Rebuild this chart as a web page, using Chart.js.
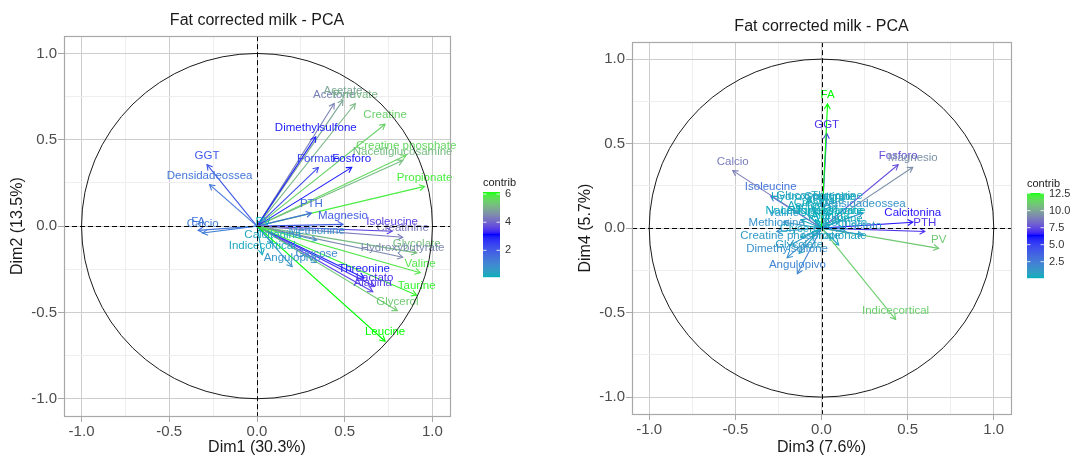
<!DOCTYPE html>
<html>
<head>
<meta charset="utf-8">
<script src="https://cdn.jsdelivr.net/npm/chart.js@4.4.1/dist/chart.umd.min.js"></script>
<style>
  html, body { margin: 0; padding: 0; background: #ffffff; }
  #wrap { position: relative; width: 1072px; height: 456px; overflow: hidden; }
  #pca12 { position: absolute; left: 0; top: 0; }
  #pca34 { position: absolute; left: 540px; top: 0; }
</style>
</head>
<body>
<div id="wrap">
  <canvas id="pca12" width="540" height="456"></canvas>
  <canvas id="pca34" width="532" height="456"></canvas>
</div>
<script>
// variables (same order in both panels)
const varNames = [
  'Acetone', 'Acetate', 'Pyruvate', 'Creatine', 'Dimethylsulfone', 'Creatine phosphate',
  'Nacetilglucosamine', 'Propionate', 'GGT', 'Densidadeossea', 'Formato', 'Fosforo',
  'PTH', 'Magnesio', 'Isoleucine', 'Creatinine', 'FA', 'Calcio', 'PV', 'Calcitonina',
  'Methionine', 'Indicecortical', 'Angulopivo', 'Glucose', 'Glycolate', 'Hydroxybutyrate',
  'Valine', 'Threonine', 'Lactato', 'Alanina', 'Taurine', 'Glycerol', 'Leucine'
];

// panel 1 : Dim1 / Dim2
const dim1 = [0.44, 0.49, 0.56, 0.73, 0.335, 0.85, 0.83, 0.955, -0.285, -0.27, 0.35, 0.54,
  0.31, 0.49, 0.77, 0.83, -0.335, -0.31, 0.035, 0.09, 0.34, 0.03, 0.20, 0.34, 0.91, 0.83,
  0.93, 0.61, 0.67, 0.66, 0.91, 0.80, 0.73];
const dim2 = [0.71, 0.73, 0.71, 0.59, 0.517, 0.41, 0.38, 0.23, 0.356, 0.24, 0.34, 0.34,
  0.075, 0.01, -0.03, -0.065, -0.025, -0.04, -0.03, -0.10, -0.08, -0.165, -0.235, -0.21, -0.155, -0.18,
  -0.27, -0.30, -0.35, -0.38, -0.40, -0.49, -0.667];
const contrib12 = [4.4, 4.9, 5.15, 5.5, 2.9, 5.6, 5.2, 5.9, 2.0, 1.4, 2.3, 3.0,
  1.6, 1.9, 3.6, 4.3, 1.4, 1.2, 0.1, 0.3, 0.8, 0.25, 0.7, 1.0, 5.2, 4.5,
  5.8, 2.9, 3.4, 3.6, 6.0, 5.4, 6.15];

// panel 2 : Dim3 / Dim4
const dim3 = [-0.075, 0.02, 0.11, -0.035, -0.2, -0.18, -0.035, 0.10, 0.03, 0.24, 0.14, 0.445,
  0.60, 0.53, -0.295, 0.05, 0.035, -0.515, 0.68, 0.53, -0.26, 0.43, -0.14, -0.14, -0.13, -0.05,
  -0.22, 0.09, 0.24, 0.05, 0.13, -0.12, -0.12];
const dim4 = [0.08, 0.11, 0.05, 0.095, -0.175, -0.10, 0.05, -0.10, 0.56, 0.09, -0.02, 0.375,
  -0.02, 0.36, 0.19, 0.13, 0.735, 0.34, -0.12, 0.035, -0.02, -0.54, -0.27, 0.135, -0.15, 0.13,
  0.035, 0.135, -0.04, 0.02, 0.0, -0.055, 0.05];
const contrib34 = [0.3, 0.3, 0.3, 0.25, 1.6, 1.0, 0.1, 0.5, 7.0, 1.4, 0.4, 7.6,
  7.0, 9.4, 2.8, 0.5, 12.6, 8.8, 11.0, 6.5, 1.5, 11.2, 2.1, 0.8, 0.9, 0.4,
  1.1, 0.6, 1.3, 0.15, 0.4, 0.4, 0.35];

// axis ticks
const majorTicks = [-1, -0.5, 0, 0.5, 1];
const tickLabels = ['-1.0', '-0.5', '0.0', '0.5', '1.0'];
const minorTicks = [-0.75, -0.25, 0.25, 0.75];

// colour bar ticks
const legendTicks12 = [2, 4, 6];
const legendLabels12 = ['2', '4', '6'];
const legendTicks34 = [2.5, 5, 7.5, 10, 12.5];
const legendLabels34 = ['2.5', '5.0', '7.5', '10.0', '12.5'];

const gradientColors = ['#00AFBB', '#0000FF', '#00FF00'];

const FONT = '"Liberation Sans", Arial, Helvetica, sans-serif';

// --- colour gradient in Lab space (like ggplot's gradientn) ---
function hexToLab(hex) {
  const n = parseInt(hex.slice(1), 16);
  const rgb = [(n >> 16) & 255, (n >> 8) & 255, n & 255].map(function(c) {
    c = c / 255;
    return c <= 0.04045 ? c / 12.92 : Math.pow((c + 0.055) / 1.055, 2.4);
  });
  const X = (0.4124564 * rgb[0] + 0.3575761 * rgb[1] + 0.1804375 * rgb[2]) / 0.95047;
  const Y = (0.2126729 * rgb[0] + 0.7151522 * rgb[1] + 0.0721750 * rgb[2]);
  const Z = (0.0193339 * rgb[0] + 0.1191920 * rgb[1] + 0.9503041 * rgb[2]) / 1.08883;
  const f = t => t > 0.008856 ? Math.cbrt(t) : 7.787 * t + 16 / 116;
  return [116 * f(Y) - 16, 500 * (f(X) - f(Y)), 200 * (f(Y) - f(Z))];
}
function labToRgb(lab) {
  const fy = (lab[0] + 16) / 116, fx = fy + lab[1] / 500, fz = fy - lab[2] / 200;
  const inv = t => (t * t * t > 0.008856) ? t * t * t : (t - 16 / 116) / 7.787;
  const X = 0.95047 * inv(fx), Y = inv(fy), Z = 1.08883 * inv(fz);
  const lin = [
    3.2404542 * X - 1.5371385 * Y - 0.4985314 * Z,
    -0.9692660 * X + 1.8760108 * Y + 0.0415560 * Z,
    0.0556434 * X - 0.2040259 * Y + 1.0572252 * Z
  ];
  const out = lin.map(function(c) {
    c = c <= 0.0031308 ? 12.92 * c : 1.055 * Math.pow(Math.max(c, 0), 1 / 2.4) - 0.055;
    return Math.round(Math.min(1, Math.max(0, c)) * 255);
  });
  return 'rgb(' + out.join(',') + ')';
}
const gradientLab = gradientColors.map(hexToLab);
function contribColor(v, min, max) {
  let t = (v - min) / (max - min);
  t = Math.min(1, Math.max(0, t));
  const seg = t * (gradientLab.length - 1);
  const i = Math.min(Math.floor(seg), gradientLab.length - 2);
  const f = seg - i;
  const a = gradientLab[i], b = gradientLab[i + 1];
  return labToRgb([a[0] + (b[0] - a[0]) * f, a[1] + (b[1] - a[1]) * f, a[2] + (b[2] - a[2]) * f]);
}

function isMajor(v) {
  return majorTicks.some(m => Math.abs(m - v) < 1e-9);
}
function tickText(v) {
  const i = majorTicks.findIndex(m => Math.abs(m - v) < 1e-9);
  return i >= 0 ? tickLabels[i] : '';
}

// arrows, labels, circle, dashed zero lines, panel border, colour bar
const pcaPlugin = {
  id: 'pcaPlugin',
  afterDatasetsDraw(chart, args, opts) {
    const ctx = chart.ctx;
    const area = chart.chartArea;
    const sx = chart.scales.x, sy = chart.scales.y;
    const x0 = sx.getPixelForValue(0), y0 = sy.getPixelForValue(0);
    const meta = chart.getDatasetMeta(0);
    const contrib = opts.contrib;
    const cmin = Math.min(...contrib), cmax = Math.max(...contrib);
    const colors = contrib.map(v => contribColor(v, cmin, cmax));

    ctx.save();
    // arrows
    ctx.lineWidth = 1.1;
    meta.data.forEach(function(pt, i) {
      const x1 = pt.x, y1 = pt.y;
      ctx.strokeStyle = colors[i];
      ctx.beginPath();
      ctx.moveTo(x0, y0);
      ctx.lineTo(x1, y1);
      ctx.stroke();
      const ang = Math.atan2(y1 - y0, x1 - x0);
      const len = 6, spread = Math.PI / 6;
      ctx.beginPath();
      ctx.moveTo(x1 - len * Math.cos(ang - spread), y1 - len * Math.sin(ang - spread));
      ctx.lineTo(x1, y1);
      ctx.lineTo(x1 - len * Math.cos(ang + spread), y1 - len * Math.sin(ang + spread));
      ctx.stroke();
    });
    // labels
    ctx.font = '11.5px ' + FONT;
    ctx.textAlign = 'center';
    ctx.textBaseline = 'middle';
    meta.data.forEach(function(pt, i) {
      ctx.fillStyle = colors[i];
      ctx.fillText(opts.names[i], pt.x, pt.y - 9);
    });

    // correlation circle
    const rx = sx.getPixelForValue(1) - x0;
    const ry = y0 - sy.getPixelForValue(1);
    ctx.strokeStyle = '#1a1a1a';
    ctx.lineWidth = 1;
    ctx.beginPath();
    ctx.ellipse(x0, y0, rx, ry, 0, 0, Math.PI * 2);
    ctx.stroke();

    // dashed zero lines
    ctx.strokeStyle = '#000000';
    ctx.setLineDash([5, 3]);
    ctx.beginPath();
    ctx.moveTo(area.left, Math.round(y0) + 0.5);
    ctx.lineTo(area.right, Math.round(y0) + 0.5);
    ctx.moveTo(Math.round(x0) + 0.5, area.top);
    ctx.lineTo(Math.round(x0) + 0.5, area.bottom);
    ctx.stroke();
    ctx.setLineDash([]);

    // panel border
    ctx.strokeStyle = '#a8a8a8';
    ctx.lineWidth = 1.2;
    ctx.strokeRect(Math.round(area.left) + 0.5, Math.round(area.top) + 0.5,
      Math.round(area.right - area.left), Math.round(area.bottom - area.top));

    // colour bar legend
    const lg = opts.legend;
    ctx.fillStyle = '#1a1a1a';
    ctx.font = '11px ' + FONT;
    ctx.textAlign = 'left';
    ctx.textBaseline = 'middle';
    ctx.fillText('contrib', lg.x, lg.titleY);
    const h = lg.bottom - lg.top;
    for (let k = 0; k < h; k++) {
      const v = cmin + (cmax - cmin) * (h - k - 0.5) / h;
      ctx.fillStyle = contribColor(v, cmin, cmax);
      ctx.fillRect(lg.x, lg.top + k, lg.width, 1.2);
    }
    ctx.strokeStyle = 'rgba(255,255,255,0.8)';
    ctx.lineWidth = 1;
    ctx.fillStyle = '#333333';
    opts.legendTicks.forEach(function(v, i) {
      const y = lg.bottom - (v - cmin) / (cmax - cmin) * h;
      ctx.beginPath();
      ctx.moveTo(lg.x, y); ctx.lineTo(lg.x + 3.5, y);
      ctx.moveTo(lg.x + lg.width - 3.5, y); ctx.lineTo(lg.x + lg.width, y);
      ctx.stroke();
      ctx.fillText(opts.legendLabels[i], lg.x + lg.width + 5, y);
    });
    ctx.restore();
  }
};

function makePanel(id, xs, ys, contrib, cfg) {
  const pts = xs.map((x, i) => ({ x: x, y: ys[i] }));
  const allTicks = majorTicks.concat(minorTicks).sort((a, b) => a - b);
  const gridOpts = {
    color: c => isMajor(c.tick.value) ? '#cdcdcd' : '#eeeeee',
    lineWidth: 1,
    tickLength: 6,
    tickColor: c => isMajor(c.tick.value) ? '#a8a8a8' : 'rgba(0,0,0,0)'
  };
  const tickOpts = {
    autoSkip: false, maxRotation: 0, minRotation: 0, padding: 1,
    color: '#4d4d4d', font: { family: FONT, size: 15 },
    callback: v => tickText(v)
  };
  return new Chart(document.getElementById(id), {
    type: 'scatter',
    data: { datasets: [{ data: pts, pointRadius: 0, pointHoverRadius: 0 }] },
    options: {
      responsive: false,
      animation: false,
      layout: { padding: cfg.padding },
      events: [],
      scales: {
        x: {
          type: 'linear', min: -1.1, max: 1.1,
          afterBuildTicks: s => { s.ticks = allTicks.map(v => ({ value: v })); },
          afterFit: s => { s.height = cfg.xAxisHeight; },
          grid: gridOpts,
          border: { display: false },
          ticks: tickOpts,
          title: { display: true, text: cfg.xTitle, color: '#1a1a1a',
            font: { family: FONT, size: 16, lineHeight: 1 }, padding: { top: cfg.xTitlePad, bottom: 0 } }
        },
        y: {
          type: 'linear', min: -1.1, max: 1.1,
          afterBuildTicks: s => { s.ticks = allTicks.map(v => ({ value: v })); },
          afterFit: s => { s.width = 64; },
          grid: gridOpts,
          border: { display: false },
          ticks: tickOpts,
          title: { display: true, text: cfg.yTitle, color: '#1a1a1a',
            font: { family: FONT, size: 16, lineHeight: 1 }, padding: { top: 10, bottom: 0 } }
        }
      },
      plugins: {
        legend: { display: false },
        tooltip: { enabled: false },
        title: {
          display: true, text: 'Fat corrected milk - PCA', fullSize: false,
          color: '#1a1a1a', font: { family: FONT, size: 16, weight: 'normal', lineHeight: 1.2 },
          padding: { top: cfg.titleTop, bottom: 6 }
        },
        pcaPlugin: {
          names: varNames,
          contrib: contrib,
          legendTicks: cfg.legendTicks,
          legendLabels: cfg.legendLabels,
          legend: cfg.legend
        }
      }
    },
    plugins: [pcaPlugin]
  });
}

makePanel('pca12', dim1, dim2, contrib12, {
  padding: { left: 0, right: 90, top: 0, bottom: 0 },
  xAxisHeight: 40, xTitlePad: 0, titleTop: 11,
  xTitle: 'Dim1 (30.3%)', yTitle: 'Dim2 (13.5%)',
  legendTicks: legendTicks12, legendLabels: legendLabels12,
  legend: { x: 483, width: 17, titleY: 183, top: 192, bottom: 277 }
});

makePanel('pca34', dim3, dim4, contrib34, {
  padding: { left: 28, right: 61, top: 0, bottom: 0 },
  xAxisHeight: 42, xTitlePad: 3, titleTop: 17,
  xTitle: 'Dim3 (7.6%)', yTitle: 'Dim4 (5.7%)',
  legendTicks: legendTicks34, legendLabels: legendLabels34,
  legend: { x: 487, width: 17, titleY: 184, top: 193, bottom: 278 }
});
</script>
</body>
</html>
